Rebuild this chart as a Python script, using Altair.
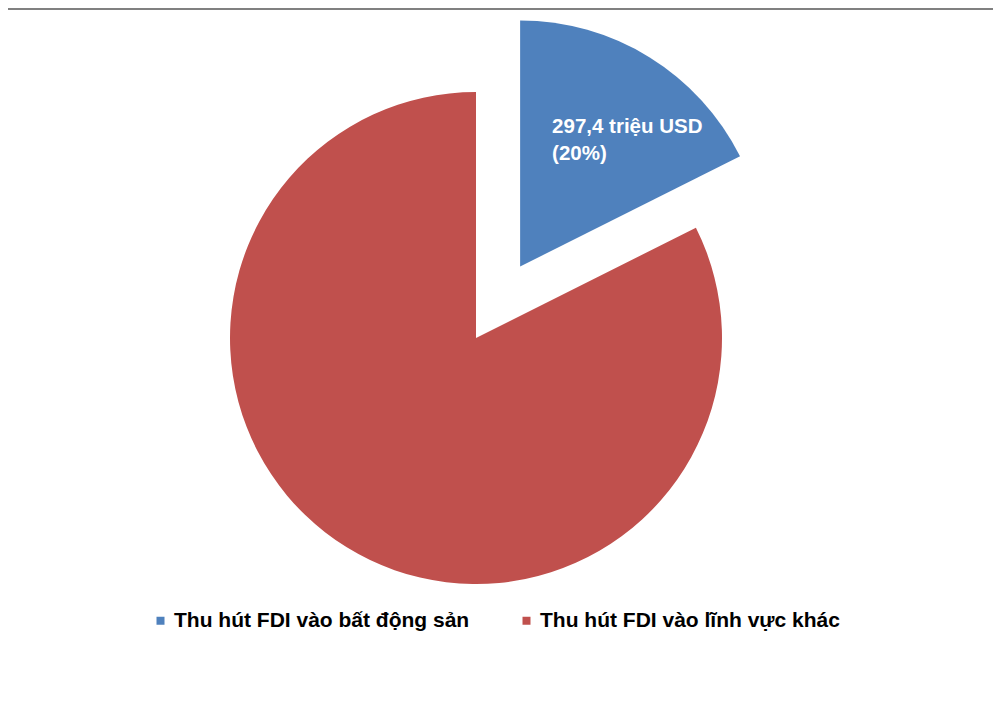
import altair as alt
import pandas as pd

categories = ["Thu hút FDI vào bất động sản", "Thu hút FDI vào lĩnh vực khác"]
values = [297.4, 1392.0]
explode = [84, 0]
labels = ["297,4 triệu USD\n(20%)", ""]
order = [0, 1]
colors = ["#4F81BD", "#C0504D"]

df = pd.DataFrame({"cat": categories, "value": values, "explode": explode,
                   "label": labels, "order": order})

CX, CY, R = 468, 330, 246

base = alt.Chart(df).transform_joinaggregate(
    total="sum(value)"
).transform_window(
    cum="sum(value)", sort=[alt.SortField("order")], frame=[None, 0]
).transform_calculate(
    t1="2*PI*datum.cum/datum.total",
    t0="2*PI*(datum.cum-datum.value)/datum.total",
).transform_calculate(
    mid="(datum.t0+datum.t1)/2"
).transform_calculate(
    px=f"{CX} + datum.explode*sin(datum.mid)",
    py=f"{CY} - datum.explode*cos(datum.mid)",
)

arcs = base.mark_arc(outerRadius=R, stroke=None).encode(
    theta=alt.Theta("t0:Q", scale=None),
    theta2="t1:Q",
    x=alt.X("px:Q", scale=None),
    y=alt.Y("py:Q", scale=None),
    color=alt.Color("cat:N", scale=alt.Scale(domain=categories, range=colors),
                    sort=categories,
                    legend=alt.Legend(title=None, orient="none", direction="horizontal",
                                      legendX=142, legendY=602, symbolType="square",
                                      symbolSize=64, symbolStrokeWidth=0,
                                      labelFont="Liberation Sans", labelFontWeight="bold",
                                      labelFontSize=21, labelColor="#000000",
                                      labelLimit=600, columnPadding=46, padding=0,
                                      symbolOffset=0, labelOffset=3)),
)

text = base.transform_filter("datum.label != ''").mark_text(
    align="left", baseline="middle", dx=32, dy=-140, lineBreak="\n",
    font="Liberation Sans", fontWeight="bold", fontSize=20.5, lineHeight=27,
    color="white",
).encode(
    x=alt.X("px:Q", scale=None),
    y=alt.Y("py:Q", scale=None),
    text="label:N",
)

topline = alt.Chart(pd.DataFrame({"a": [0]})).mark_rule(color="#808080", strokeWidth=2).encode(
    x=alt.value(-8), x2=alt.value(993), y=alt.value(1)
)

chart = alt.layer(topline, arcs, text).properties(
    width=985, height=688, autosize=alt.AutoSizeParams(type="none"), padding=0
).configure_view(stroke=None)

chart.save("out.html", embed_options={"renderer": "svg", "actions": False})
